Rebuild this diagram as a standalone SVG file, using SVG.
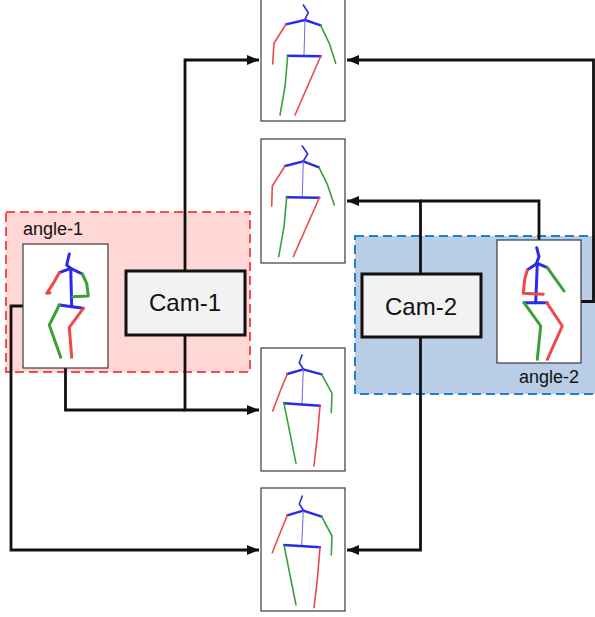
<svg xmlns="http://www.w3.org/2000/svg" width="595" height="617" viewBox="0 0 595 617">
<style>
.region-red{fill:#ffd7d7;stroke:#ff4a4a;stroke-width:2;stroke-dasharray:9 5}
.region-blue{fill:#b9cde6;stroke:#1f7fd3;stroke-width:2;stroke-dasharray:9 5}
.panel{fill:#ffffff;stroke:#3a3a3a;stroke-width:1.2}
.cam{fill:#f2f2f2;stroke:#111;stroke-width:3}
.camtxt{font-family:"Liberation Sans",Arial,sans-serif;font-size:24px;fill:#111;text-anchor:middle}
.lbl{font-family:"Liberation Sans",Arial,sans-serif;font-size:18px;fill:#111}
.conn{fill:none;stroke:#111;stroke-width:2.8;stroke-linejoin:miter}
.b{fill:none;stroke:#2a2ae8;stroke-linecap:round;stroke-linejoin:round}
.r{fill:none;stroke:#f04848;stroke-linecap:round;stroke-linejoin:round}
.g{fill:none;stroke:#3aa03a;stroke-linecap:round;stroke-linejoin:round}
.thin .b,.thin .r,.thin .g{stroke-width:1.6}
.thin .spine{stroke-width:1;stroke:#6a6af0}
.thin .bar{stroke-width:2.4}
.thick .b,.thick .r,.thick .g{stroke-width:3}
</style>
<defs>
<marker id="ah" markerWidth="12" markerHeight="10" refX="12" refY="5" orient="auto" markerUnits="userSpaceOnUse">
<path d="M0,0 L12,5 L0,10 z" fill="#111"/>
</marker>
</defs>
<rect width="595" height="617" fill="#ffffff"/>

<g id="region-angle-1">
<rect class="region-red" x="6" y="212" width="244" height="160"/>
<text class="lbl" x="23" y="235">angle-1</text>
</g>
<g id="region-angle-2">
<rect class="region-blue" x="355" y="236" width="250" height="158"/>
<text class="lbl" x="519" y="383">angle-2</text>
</g>

<g id="connectors">
<polyline class="conn" points="185,271 185,60 259,60" marker-end="url(#ah)"/>
<polyline class="conn" points="185,335 185,410 259,410" marker-end="url(#ah)"/>
<polyline class="conn" points="65.5,368 65.5,410 185,410"/>
<polyline class="conn" points="23,306 11,306 11,550 259,550" marker-end="url(#ah)"/>
<polyline class="conn" points="420.5,274 420.5,201 347,201" marker-end="url(#ah)"/>
<polyline class="conn" points="539,240 539,201 420.5,201"/>
<polyline class="conn" points="420.5,337 420.5,550 347,550" marker-end="url(#ah)"/>
<polyline class="conn" points="581,301.5 593.5,301.5 593.5,60 347,60" marker-end="url(#ah)"/>
</g>

<g id="cam-1">
<rect class="cam" x="126" y="271" width="119" height="64"/>
<text class="camtxt" x="185" y="311">Cam-1</text>
</g>
<g id="cam-2">
<rect class="cam" x="362" y="274" width="119" height="63"/>
<text class="camtxt" x="421" y="315">Cam-2</text>
</g>

<g id="angle-1-image" class="thick">
<rect class="panel" x="23" y="244" width="85" height="124"/>
<polyline class="b" points="69.3,254 66.7,265 70.7,268.3"/>
<polyline class="b" points="59.3,272.7 70.7,268.3 82.3,274"/>
<polyline class="b" points="70.7,268.3 71.7,306.7"/>
<polyline class="b" points="59.3,305 83.3,308.3"/>
<polyline class="r" points="59.3,272.7 53.3,283.3 46.7,293.3 50,292.7"/>
<polyline class="g" points="82.3,274 86.7,283.3 88.3,296 72.7,296.7"/>
<polyline class="g" points="59.3,305 49.3,325 60.7,357.3"/>
<polyline class="r" points="83.3,308.3 69.3,327.3 71.7,357.3"/>
</g>

<g id="angle-2-image" class="thick">
<rect class="panel" x="497" y="240" width="84" height="123"/>
<polyline class="b" points="536.7,247.7 539,256.7 536.7,262.7"/>
<polyline class="b" points="527.3,270 537.3,263.3 547.3,267.7"/>
<polyline class="b" points="537.3,263.3 535.7,302.7"/>
<polyline class="b" points="524,302.7 547.3,302.7"/>
<polyline class="r" points="527.3,270 524.7,279.3 523.3,293.3 543.3,294.3"/>
<polyline class="g" points="547.3,267.7 555.7,279.3 564,291"/>
<polyline class="g" points="524,302.7 540.7,326 537.3,359.3"/>
<polyline class="r" points="546.7,302.7 562.3,326 547.3,359.3"/>
</g>

<g id="output-1" class="thin">
<rect class="panel" x="261" y="-3" width="84" height="124"/>
<polyline class="b" points="303.3,5 308.3,12.7 305,19.3"/>
<polyline class="b bar" points="286,24.3 305,20 320.7,25.3"/>
<polyline class="b spine" points="305,20 304,55"/>
<polyline class="b bar" points="287.7,55.7 320.7,56.3"/>
<polyline class="r" points="286,24.3 274,43.3 272.7,64"/>
<polyline class="g" points="320.7,25.3 329.3,43.3 335.7,63.3"/>
<polyline class="g" points="287.7,55.7 285,86.7 280,115"/>
<polyline class="r" points="320.7,56.3 295,115"/>
</g>

<g id="output-2" class="thin">
<rect class="panel" x="261" y="139" width="84" height="124"/>
<polyline class="b" points="302.3,146 307.7,154 303.3,161"/>
<polyline class="b bar" points="285,166 303.3,161.3 319,167.3"/>
<polyline class="b spine" points="303.3,161.3 302.3,196"/>
<polyline class="b bar" points="286.7,197.3 319.3,197.7"/>
<polyline class="r" points="285,166 272.3,186 271.7,206"/>
<polyline class="g" points="319,167.3 327.3,184.3 334.3,205"/>
<polyline class="g" points="286.7,197.3 284,226.7 278.7,256.7"/>
<polyline class="r" points="319.3,197.7 293.3,256.7"/>
</g>

<g id="output-3" class="thin">
<rect class="panel" x="261" y="348" width="84" height="123"/>
<polyline class="b" points="302,355 299.3,362.7 303.3,369"/>
<polyline class="b bar" points="287.3,374 303.3,369.3 321.7,374.3"/>
<polyline class="b spine" points="303.3,369.3 302,403.3"/>
<polyline class="b bar" points="284,403.3 320,405.7"/>
<polyline class="r" points="287.3,374 280,391.7 272.7,411"/>
<polyline class="g" points="321.7,374.3 332,393.3 331.3,412.7"/>
<polyline class="g" points="284,403.3 296,463.3"/>
<polyline class="r" points="320,405.7 317.3,436.7 314,466"/>
</g>

<g id="output-4" class="thin">
<rect class="panel" x="261" y="488" width="84" height="123"/>
<polyline class="b" points="302.3,496 299.3,504 303.3,510"/>
<polyline class="b bar" points="287.3,515.3 303.3,510.7 321.7,516.7"/>
<polyline class="b spine" points="303.3,510.7 301.7,545"/>
<polyline class="b bar" points="284,545 320,547.3"/>
<polyline class="r" points="287.3,515.3 280,533.3 272.3,552.7"/>
<polyline class="g" points="321.7,516.7 332,536 331.3,555"/>
<polyline class="g" points="284,545 296,605"/>
<polyline class="r" points="320,547.3 317.3,580 314,607.7"/>
</g>
</svg>
